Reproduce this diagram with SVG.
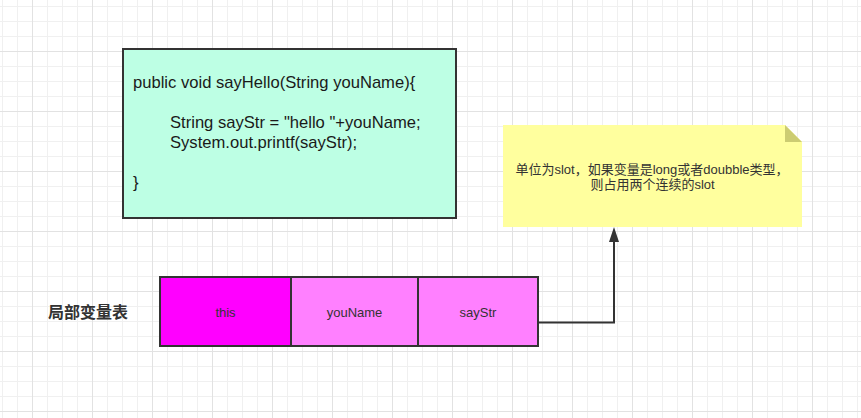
<svg xmlns="http://www.w3.org/2000/svg" width="861" height="418" viewBox="0 0 861 418">
  <defs>
    <pattern id="grid" x="2" y="6" width="60" height="60" patternUnits="userSpaceOnUse">
      <rect x="0" y="0" width="1" height="60" fill="#f0f0f0"/>
      <rect x="15" y="0" width="1" height="60" fill="#f0f0f0"/>
      <rect x="45" y="0" width="1" height="60" fill="#f0f0f0"/>
      <rect x="0" y="0" width="60" height="1" fill="#f0f0f0"/>
      <rect x="0" y="15" width="60" height="1" fill="#f0f0f0"/>
      <rect x="0" y="30" width="60" height="1" fill="#f0f0f0"/>
      <rect x="30" y="0" width="1" height="60" fill="#e2e2e2"/>
      <rect x="0" y="45" width="60" height="1" fill="#e2e2e2"/>
    </pattern>
    <style>
      .box { stroke: #333333; stroke-width: 2; }
      .code { font-family: "Liberation Sans", Arial, sans-serif; font-size: 16.6px; fill: #1a1a1a; }
      .cell { font-family: "Liberation Sans", Arial, sans-serif; font-size: 13px; fill: #333333; text-anchor: middle; }
      .note { font-family: "Liberation Sans", "Noto Sans CJK SC", sans-serif; font-size: 13px; fill: #333333; text-anchor: middle; }
      .label { font-family: "Noto Sans CJK SC", sans-serif; font-size: 16px; font-weight: bold; fill: #333333; }
      .edge { fill: none; stroke: #333333; stroke-width: 2; }
    </style>
  </defs>
  <rect x="0" y="0" width="861" height="418" fill="#ffffff"/>
  <rect x="0" y="0" width="861" height="418" fill="url(#grid)"/>

  <g id="code">
    <rect class="box" x="123" y="49" width="333" height="169" fill="#bdffe4"/>
    <text class="code" x="133" y="88">public void sayHello(String youName){</text>
    <text class="code" x="170" y="128">String sayStr = "hello "+youName;</text>
    <text class="code" x="170" y="148">System.out.printf(sayStr);</text>
    <text class="code" x="133" y="188">}</text>
  </g>

  <g id="note">
    <path d="M503,125 H785 L802,142 V227 H503 Z" fill="#ffff9e"/>
    <path d="M785,125 L802,142 H785 Z" fill="#cccc72"/>
    <text class="note" x="652" y="173.5">单位为slot，如果变量是long或者doubble类型，</text>
    <text class="note" x="652.5" y="188.5">则占用两个连续的slot</text>
  </g>

  <g id="label">
    <text class="label" x="48" y="318">局部变量表</text>
  </g>

  <g id="cell-this">
    <rect class="box" x="160" y="277" width="131" height="69" fill="#ff00ff"/>
    <text class="cell" x="225.5" y="317">this</text>
  </g>
  <g id="cell-youName">
    <rect class="box" x="291" y="277" width="127" height="69" fill="#ff80ff"/>
    <text class="cell" x="354.5" y="317">youName</text>
  </g>
  <g id="cell-sayStr">
    <rect class="box" x="418" y="277" width="120" height="69" fill="#ff80ff"/>
    <text class="cell" x="478" y="317">sayStr</text>
  </g>

  <g id="connectors">
    <path class="edge" d="M538,322.5 H614 V242"/>
    <path d="M614,227 L619,242 L609,242 Z" fill="#333333"/>
  </g>
</svg>
